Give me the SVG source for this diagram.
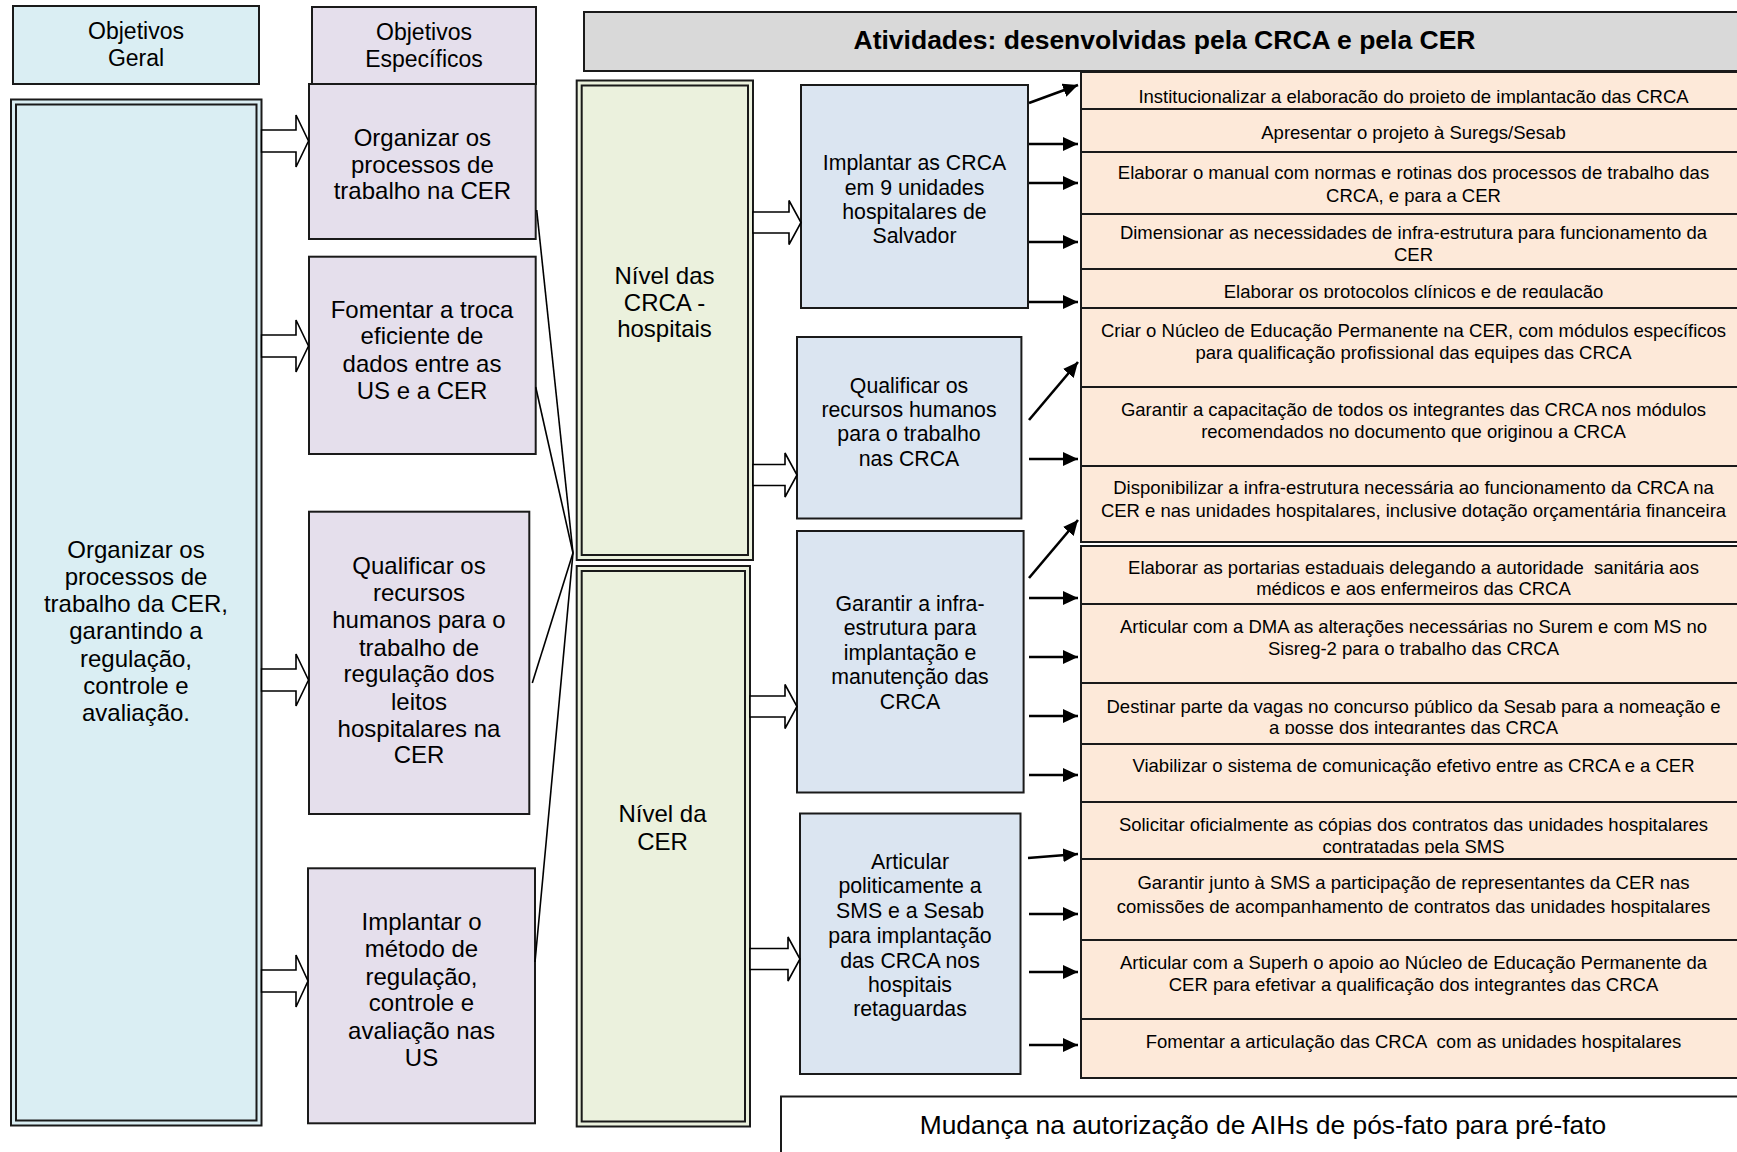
<svg xmlns="http://www.w3.org/2000/svg" width="1737" height="1152" viewBox="0 0 1737 1152">
<style>
.t{font-family:"Liberation Sans",Arial,sans-serif;fill:#000;text-anchor:middle}
.f24{font-size:24px}
.f23{font-size:23px}
.f21{font-size:21.3px}
.f18{font-size:18.5px}
.hd{font-size:26.5px;font-weight:bold}
.bt{font-size:26.4px}
.bx{stroke:#1a1a1a;stroke-width:2}
.geral{fill:#daeef3}
.esp{fill:#e5dfec}
.niv{fill:#ebf1dd}
.blu{fill:#dbe5f1}
.act{fill:#fde9d9;stroke:#1a1a1a;stroke-width:2}
.blk{fill:#fff;stroke:#000;stroke-width:1.6;stroke-linejoin:miter}
.ln{stroke:#000;stroke-width:1.6;fill:none}
.ar{stroke:#000;stroke-width:2.6;fill:none;marker-end:url(#ah)}
</style>
<defs>
<marker id="ah" markerUnits="userSpaceOnUse" markerWidth="16" markerHeight="14" refX="15" refY="7" orient="auto" viewBox="0 0 16 14"><path d="M0,0 L15,7 L0,14 z" fill="#000"/></marker>
<clipPath id="c1"><rect x="1081" y="72" width="664" height="31.5"/></clipPath>
<clipPath id="c5"><rect x="1081" y="269" width="664" height="29"/></clipPath>
<clipPath id="c9"><rect x="1081" y="546" width="664" height="49.5"/></clipPath>
<clipPath id="c11"><rect x="1081" y="683" width="664" height="51"/></clipPath>
<clipPath id="c13"><rect x="1081" y="802" width="664" height="51.5"/></clipPath>
</defs>
<rect width="1737" height="1152" fill="#fff"/>

<g id="hdr-geral">
<rect class="bx geral" x="13" y="6" width="246" height="78"/>
<text class="t f23" x="136" y="39">Objetivos</text>
<text class="t f23" x="136" y="66">Geral</text>
</g>
<g id="hdr-especificos">
<rect class="bx esp" x="312" y="7" width="224" height="77"/>
<text class="t f23" x="424" y="39.5">Objetivos</text>
<text class="t f23" x="424" y="66.5">Específicos</text>
</g>
<g id="hdr-atividades">
<rect class="bx" fill="#d9d9d9" x="584" y="12" width="1161" height="59"/>
<text class="t hd" x="1164.5" y="48.5">Atividades: desenvolvidas pela CRCA e pela CER</text>
</g>

<g id="objetivo-geral">
<rect class="bx geral" x="11" y="99.5" width="250.5" height="1026"/>
<rect class="bx geral" x="16" y="104.5" width="240.5" height="1016"/>
<text class="t f24" x="136" y="557.5">Organizar os</text>
<text class="t f24" x="136" y="584.8">processos de</text>
<text class="t f24" x="136" y="612.1">trabalho da CER,</text>
<text class="t f24" x="136" y="639.4">garantindo a</text>
<text class="t f24" x="136" y="666.7">regulação,</text>
<text class="t f24" x="136" y="694">controle e</text>
<text class="t f24" x="136" y="721.3">avaliação.</text>
</g>

<g id="esp1">
<rect class="bx esp" x="309" y="84" width="226.7" height="155"/>
<text class="t f24" x="422.4" y="146">Organizar os</text>
<text class="t f24" x="422.4" y="172.5">processos de</text>
<text class="t f24" x="422.4" y="199">trabalho na CER</text>
</g>
<g id="esp2">
<rect class="bx esp" x="309" y="256.7" width="226.7" height="197.3"/>
<text class="t f24" x="422" y="317.5">Fomentar a troca</text>
<text class="t f24" x="422" y="344">eficiente de</text>
<text class="t f24" x="422" y="372">dados entre as</text>
<text class="t f24" x="422" y="398.5">US e a CER</text>
</g>
<g id="esp3">
<rect class="bx esp" x="309" y="511.7" width="220.3" height="302.3"/>
<text class="t f24" x="419" y="573.5">Qualificar os</text>
<text class="t f24" x="419" y="601">recursos</text>
<text class="t f24" x="419" y="627.5">humanos para o</text>
<text class="t f24" x="419" y="655.5">trabalho de</text>
<text class="t f24" x="419" y="682">regulação dos</text>
<text class="t f24" x="419" y="709.5">leitos</text>
<text class="t f24" x="419" y="736.5">hospitalares na</text>
<text class="t f24" x="419" y="763">CER</text>
</g>
<g id="esp4">
<rect class="bx esp" x="308" y="868.3" width="227" height="255"/>
<text class="t f24" x="421.5" y="930">Implantar o</text>
<text class="t f24" x="421.5" y="956.5">método de</text>
<text class="t f24" x="421.5" y="984.5">regulação,</text>
<text class="t f24" x="421.5" y="1011">controle e</text>
<text class="t f24" x="421.5" y="1038.5">avaliação nas</text>
<text class="t f24" x="421.5" y="1065.5">US</text>
</g>

<g id="nivel-crca">
<rect class="bx niv" x="576.7" y="80.5" width="176.3" height="479.5"/>
<rect class="bx niv" x="581.7" y="85.5" width="166.3" height="469.5"/>
<text class="t f24" x="664.5" y="284">Nível das</text>
<text class="t f24" x="664.5" y="310.5">CRCA -</text>
<text class="t f24" x="664.5" y="337">hospitais</text>
</g>
<g id="nivel-cer">
<rect class="bx niv" x="576.7" y="566" width="173.3" height="560.5"/>
<rect class="bx niv" x="581.7" y="571" width="163.3" height="550.5"/>
<text class="t f24" x="662.5" y="822">Nível da</text>
<text class="t f24" x="662.5" y="850">CER</text>
</g>

<g id="grupo1">
<rect class="bx blu" x="801" y="85" width="227" height="223"/>
<text class="t f21" x="914.5" y="170">Implantar as CRCA</text>
<text class="t f21" x="914.5" y="194.5">em 9 unidades</text>
<text class="t f21" x="914.5" y="219">hospitalares de</text>
<text class="t f21" x="914.5" y="243.3">Salvador</text>
</g>
<g id="grupo2">
<rect class="bx blu" x="797" y="337" width="224.4" height="181.5"/>
<text class="t f21" x="909" y="392.8">Qualificar os</text>
<text class="t f21" x="909" y="417.3">recursos humanos</text>
<text class="t f21" x="909" y="441.3">para o trabalho</text>
<text class="t f21" x="909" y="466">nas CRCA</text>
</g>
<g id="grupo3">
<rect class="bx blu" x="797" y="531" width="226.6" height="261.5"/>
<text class="t f21" x="910" y="611">Garantir a infra-</text>
<text class="t f21" x="910" y="635.3">estrutura para</text>
<text class="t f21" x="910" y="659.8">implantação e</text>
<text class="t f21" x="910" y="684.2">manutenção das</text>
<text class="t f21" x="910" y="708.5">CRCA</text>
</g>
<g id="grupo4">
<rect class="bx blu" x="800" y="813.5" width="220.5" height="260.5"/>
<text class="t f21" x="910" y="869.3">Articular</text>
<text class="t f21" x="910" y="893.3">politicamente a</text>
<text class="t f21" x="910" y="918">SMS e a Sesab</text>
<text class="t f21" x="910" y="943.3">para implantação</text>
<text class="t f21" x="910" y="967.8">das CRCA nos</text>
<text class="t f21" x="910" y="992.3">hospitais</text>
<text class="t f21" x="910" y="1016.3">retaguardas</text>
</g>

<g id="atividades">
<rect class="act" x="1081" y="72" width="664" height="37"/>
<rect class="act" x="1081" y="109" width="664" height="43"/>
<rect class="act" x="1081" y="152" width="664" height="62"/>
<rect class="act" x="1081" y="214" width="664" height="55"/>
<rect class="act" x="1081" y="269" width="664" height="39"/>
<rect class="act" x="1081" y="308" width="664" height="79"/>
<rect class="act" x="1081" y="387" width="664" height="79"/>
<rect class="act" x="1081" y="466" width="664" height="76"/>
<rect class="act" x="1081" y="546" width="664" height="58"/>
<rect class="act" x="1081" y="604" width="664" height="79"/>
<rect class="act" x="1081" y="683" width="664" height="61"/>
<rect class="act" x="1081" y="744" width="664" height="58"/>
<rect class="act" x="1081" y="802" width="664" height="57"/>
<rect class="act" x="1081" y="859" width="664" height="81"/>
<rect class="act" x="1081" y="940" width="664" height="79"/>
<rect class="act" x="1081" y="1019" width="664" height="59"/>
<text class="t f18" x="1413.5" y="102.7" clip-path="url(#c1)">Institucionalizar a elaboração do projeto de implantação das CRCA</text>
<text class="t f18" x="1413.5" y="138.7">Apresentar o projeto à Suregs/Sesab</text>
<text class="t f18" x="1413.5" y="179">Elaborar o manual com normas e rotinas dos processos de trabalho das</text>
<text class="t f18" x="1413.5" y="202">CRCA, e para a CER</text>
<text class="t f18" x="1413.5" y="239">Dimensionar as necessidades de infra-estrutura para funcionamento da</text>
<text class="t f18" x="1413.5" y="261">CER</text>
<text class="t f18" x="1413.5" y="297.7" clip-path="url(#c5)">Elaborar os protocolos clínicos e de regulação</text>
<text class="t f18" x="1413.5" y="337">Criar o Núcleo de Educação Permanente na CER, com módulos específicos</text>
<text class="t f18" x="1413.5" y="359">para qualificação profissional das equipes das CRCA</text>
<text class="t f18" x="1413.5" y="416">Garantir a capacitação de todos os integrantes das CRCA nos módulos</text>
<text class="t f18" x="1413.5" y="438">recomendados no documento que originou a CRCA</text>
<text class="t f18" x="1413.5" y="494">Disponibilizar a infra-estrutura necessária ao funcionamento da CRCA na</text>
<text class="t f18" x="1413.5" y="516.7">CER e nas unidades hospitalares, inclusive dotação orçamentária financeira</text>
<text class="t f18" x="1413.5" y="574" xml:space="preserve">Elaborar as portarias estaduais delegando a autoridade  sanitária aos</text>
<text class="t f18" x="1413.5" y="595" clip-path="url(#c9)">médicos e aos enfermeiros das CRCA</text>
<text class="t f18" x="1413.5" y="632.7">Articular com a DMA as alterações necessárias no Surem e com MS no</text>
<text class="t f18" x="1413.5" y="655">Sisreg-2 para o trabalho das CRCA</text>
<text class="t f18" x="1413.5" y="712.7">Destinar parte da vagas no concurso público da Sesab para a nomeação e</text>
<text class="t f18" x="1413.5" y="733.7" clip-path="url(#c11)">a posse dos integrantes das CRCA</text>
<text class="t f18" x="1413.5" y="771.7">Viabilizar o sistema de comunicação efetivo entre as CRCA e a CER</text>
<text class="t f18" x="1413.5" y="831">Solicitar oficialmente as cópias dos contratos das unidades hospitalares</text>
<text class="t f18" x="1413.5" y="852.7" clip-path="url(#c13)">contratadas pela SMS</text>
<text class="t f18" x="1413.5" y="889">Garantir junto à SMS a participação de representantes da CER nas</text>
<text class="t f18" x="1413.5" y="912.7">comissões de acompanhamento de contratos das unidades hospitalares</text>
<text class="t f18" x="1413.5" y="969">Articular com a Superh o apoio ao Núcleo de Educação Permanente da</text>
<text class="t f18" x="1413.5" y="991">CER para efetivar a qualificação dos integrantes das CRCA</text>
<text class="t f18" x="1413.5" y="1048" xml:space="preserve">Fomentar a articulação das CRCA  com as unidades hospitalares</text>
</g>

<g id="mudanca">
<rect class="bx" fill="#fff" x="781" y="1096.5" width="964" height="80"/>
<text class="t bt" x="1263" y="1134">Mudança na autorização de AIHs de pós-fato para pré-fato</text>
</g>

<g id="connectors">
<path class="blk" d="M261.6,130 H296 V115 L308.5,141 L296,167 V152 H261.6 Z"/>
<path class="blk" d="M261.6,335 H296 V320 L308.5,346 L296,372 V357 H261.6 Z"/>
<path class="blk" d="M261.6,669 H296 V654 L308.5,680 L296,706 V691 H261.6 Z"/>
<path class="blk" d="M261.6,970 H296 V955 L308,981 L296,1007 V992 H261.6 Z"/>
<path class="blk" d="M753,212 H789 V200.5 L801,222.5 L789,244.5 V233 H753 Z"/>
<path class="blk" d="M753,464.5 H785 V453 L797,475 L785,497 V485.5 H753 Z"/>
<path class="blk" d="M750,696 H785 V684.5 L797,706.5 L785,728.5 V717 H750 Z"/>
<path class="blk" d="M750,948.5 H788 V937 L800,959 L788,981 V969.5 H750 Z"/>
<line class="ln" x1="536.7" y1="210" x2="573" y2="553"/>
<line class="ln" x1="535.7" y1="387" x2="573" y2="553"/>
<line class="ln" x1="532.3" y1="683" x2="573" y2="553"/>
<line class="ln" x1="535" y1="962" x2="573" y2="553"/>
<line class="ar" x1="1029" y1="103" x2="1078" y2="85"/>
<line class="ar" x1="1029" y1="144" x2="1078" y2="144"/>
<line class="ar" x1="1029" y1="183" x2="1078" y2="183"/>
<line class="ar" x1="1029" y1="242" x2="1078" y2="242"/>
<line class="ar" x1="1029" y1="302" x2="1078" y2="302"/>
<line class="ar" x1="1029" y1="420" x2="1078" y2="362"/>
<line class="ar" x1="1029" y1="459" x2="1078" y2="459"/>
<line class="ar" x1="1029" y1="578" x2="1078" y2="520"/>
<line class="ar" x1="1029" y1="598" x2="1078" y2="598"/>
<line class="ar" x1="1029" y1="657" x2="1078" y2="657"/>
<line class="ar" x1="1029" y1="716" x2="1078" y2="716"/>
<line class="ar" x1="1029" y1="775" x2="1078" y2="775"/>
<line class="ar" x1="1028" y1="858" x2="1078" y2="854"/>
<line class="ar" x1="1029" y1="914" x2="1078" y2="914"/>
<line class="ar" x1="1029" y1="972" x2="1078" y2="972"/>
<line class="ar" x1="1029" y1="1045" x2="1078" y2="1045"/>
</g>
</svg>
